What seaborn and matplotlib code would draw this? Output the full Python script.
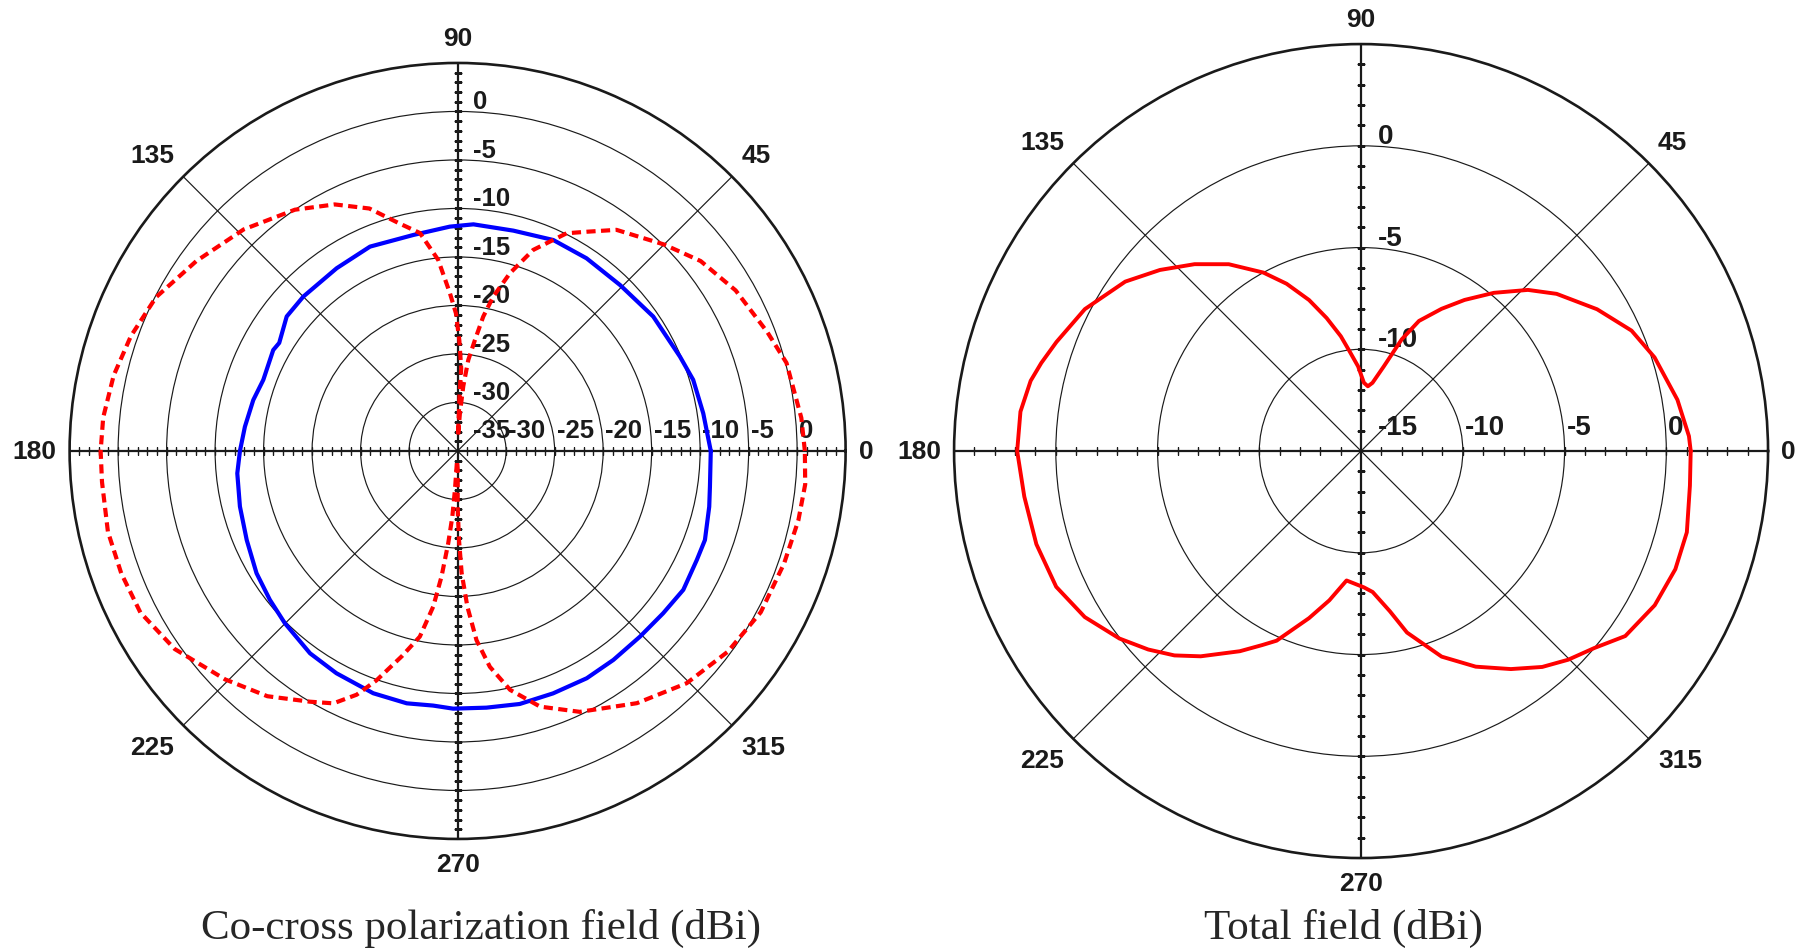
import numpy as np
import matplotlib
matplotlib.use('Agg')
import matplotlib.pyplot as plt
import seaborn as sns

# co-polarization field (blue, solid) - left plot
co_deg = [0, 8.7, 16.8, 23, 34.5, 45.6, 56.2, 65.6, 75.8, 86, 92, 101.6, 113.2, 123.5,
          135, 141.8, 148.8, 151.3, 159.9, 166, 173.5, 180, 185.8, 194.3, 202.9, 211.3,
          218.4, 224.9, 233.9, 241.4, 250.8, 258.6, 264.5, 269, 276.4, 283.8, 291.5,
          299.6, 306.7, 314.5, 321.7, 328.4, 335.5, 340.2, 347.5, 352]
co_db = [-8.9, -9.38, -9.63, -10.1, -10.53, -11.06, -11.1, -11.12, -11.57, -11.58, -11.86,
         -12.27, -12.08, -12.41, -12.5, -12.58, -13.5, -13.33, -13.67, -13.29, -12.93,
         -12.56, -12.17, -11.84, -11.4, -10.74, -10.3, -9.85, -9.18, -8.9, -8.55, -8.46,
         -8.63, -8.43, -8.37, -8.14, -8.14, -8.05, -8.13, -8.17, -8.0, -7.68, -7.9, -7.9,
         -8.43, -8.73]

# cross-polarization field (red, dashed) - left plot
cx_deg = [0, 5.5, 15, 21, 30, 38, 45, 54.3, 59.5, 63.4, 69.4, 73.6, 77, 79.2, 81.1, 83.3,
          85, 86.5, 88.5, 88, 87.5, 89.1, 90.7, 92.8, 95.8, 99.8, 104.6, 110, 116.5, 124,
          134, 144, 153, 160.6, 167.6, 174.6, 180, 185, 193, 200, 207, 215, 224.5, 232.2,
          239.5, 243.8, 247.5, 250.5, 254.8, 258.5, 261.1, 262.7, 264.2, 265.4, 266.1,
          266.5, 270.5, 270, 270.9, 271.9, 273.6, 275.7, 278.5, 282.4, 287.9, 295.1,
          305.4, 314.6, 323.4, 332, 341, 348.5, 354.5]
cx_db = [0.8, 0.6, 0.1, -0.8, -1.9, -3.2, -4.9, -6.93, -8.77, -9.9, -12.86, -15.9, -18.67,
         -20.9, -23.4, -25.55, -28.3, -31.1, -33.5, -29.0, -26.5, -23.6, -20.8, -18.7,
         -15.2, -12.2, -10.7, -8.4, -6.6, -5.0, -3.25, -1.7, -0.1, 0.7, 1.3, 1.7, 1.8,
         1.8, 2.0, 1.9, 1.7, 0.6, -1.4, -3.0, -5.0, -6.0, -7.8, -9.9, -13.07, -15.47,
         -18.76, -21.94, -25.43, -28.2, -31.0, -34.0, -33.0, -29.3, -25.8, -22.4, -18.9,
         -15.4, -12.5, -9.78, -7.3, -5.3, -3.1, -1.37, -0.3, 0.4, 0.6, 0.85, 1.0]

# total field (red, solid) - right plot
tot_deg = [0, 2.6, 9.2, 17.7, 24, 31, 38.8, 44, 50, 55.6, 60.5, 66, 70, 75, 80.5, 84,
           87.6, 92, 96.6, 100, 104.5, 109, 114, 118.7, 125.3, 131.7, 138, 144.3, 152.8,
           160.3, 164.6, 168, 173.4, 180, 187.7, 196, 204, 211, 217.8, 223, 227.6, 232,
           238.8, 243, 246, 252.7, 258, 263.6, 271.2, 274.7, 280.2, 284.2, 291.4, 298,
           304.5, 310, 314.8, 319.8, 325, 332.3, 339.4, 346, 354]
tot_db = [1.2, 1.13, 0.75, 0.14, -0.45, -1.47, -2.67, -3.6, -4.85, -6.0, -6.97, -8.0,
          -9.16, -10.7, -11.6, -11.8, -11.64, -10.84, -10.06, -9.27, -8.25, -7.15, -6.0,
          -5.0, -3.75, -2.7, -1.7, -0.73, 0.26, 0.9, 1.3, 1.6, 1.85, 1.9, 1.7, 1.6, 1.4,
          0.84, 0.03, -0.7, -1.4, -2.2, -3.5, -4.3, -4.8, -6.4, -7.5, -8.6, -8.3, -8.05,
          -7.0, -5.8, -4.15, -3.0, -2.0, -1.15, -0.55, 0.0, 0.85, 1.3, 1.5, 1.5, 1.25]

theta_ticks = [0, 45, 90, 135, 180, 225, 270, 315]
left_rings = [-30, -25, -20, -15, -10, -5, 0]
right_rings = [-10, -5, 0]

sns.set_theme(style='white')
plt.rcParams['font.family'] = ['Liberation Sans', 'DejaVu Sans']

fig = plt.figure(figsize=(18.08, 9.53), dpi=100)
ax1 = fig.add_axes([0.0385, 0.1186, 0.4292, 0.8143], projection='polar')
ax2 = fig.add_axes([0.5277, 0.0986, 0.4502, 0.8541], projection='polar')


def closed(deg, db):
    th = np.deg2rad(np.r_[deg, deg[0] + 360])
    return th, np.r_[db, db[0]]


def style_polar(ax, rmin, rmax, rings, lab_size, hpad, vpad):
    ax.set_ylim(rmin, rmax)
    ax.set_yticks(rings)
    ax.set_yticklabels([])
    ax.set_xticks(np.deg2rad(theta_ticks))
    ax.set_xticklabels([])
    ax.set_xticks(np.deg2rad(np.arange(0, 360, 5)), minor=True)
    ax.tick_params(axis='x', which='both', direction='in', length=4.8, width=0.9, colors='k')
    ax.tick_params(axis='y', length=0)
    ax.grid(True, color='k', lw=0.85)
    for i, g in enumerate(ax.xaxis.get_gridlines()):
        g.set_linewidth(1.6 if i % 2 == 0 else 0.85)
    ax.spines['polar'].set_linewidth(1.9)
    ax.spines['polar'].set_color('k')
    ax.set_axisbelow(True)
    ax.set_facecolor('white')

    # small 1 dB ticks across the main axes
    rt = np.arange(rmin + 1, rmax)
    for th, m in [(0, '|'), (np.pi, '|'), (np.pi / 2, '_'), (3 * np.pi / 2, '_')]:
        ax.plot(np.full(len(rt), th), rt, ls='none', marker=m, ms=5.3, mew=1.0,
                color='k', zorder=1.5)

    # radial labels along 0 and 90 deg
    kw = dict(textcoords='offset pixels', ha='left', va='baseline',
              fontsize=lab_size, fontweight='bold', color='k')
    for v in rings:
        ax.annotate(str(v), xy=(0, v), xytext=(2, hpad), **kw)
        ax.annotate(str(v), xy=(np.pi / 2, v), xytext=(vpad, 3), **kw)
    ax.annotate(str(rmin), xy=(0, rmin), xytext=(vpad, hpad), **kw)

    # angle labels outside the outer circle
    for t in theta_ticks:
        a = np.deg2rad(t)
        c, s = np.cos(a), np.sin(a)
        ha = 'left' if c > 0.1 else ('right' if c < -0.1 else 'center')
        va = 'bottom' if s > 0.1 else ('top' if s < -0.1 else 'center')
        ax.annotate(str(t), xy=(a, rmax), xytext=(13 * c, 13 * s),
                    textcoords='offset pixels', ha=ha, va=va,
                    fontsize=19, fontweight='bold', color='k', annotation_clip=False)


style_polar(ax1, -35, 5, left_rings, 18.5, 14, 15)
style_polar(ax2, -15, 5, right_rings, 20, 17, 17)

th, r = closed(co_deg, co_db)
sns.lineplot(x=th, y=r, ax=ax1, sort=False, estimator=None, color='#0000ff', lw=3.0, zorder=4)
th, r = closed(cx_deg, cx_db)
sns.lineplot(x=th, y=r, ax=ax1, sort=False, estimator=None, color='#ff0000', lw=3.0,
             linestyle=(0, (2.2, 1.3)), zorder=4)
th, r = closed(tot_deg, tot_db)
sns.lineplot(x=th, y=r, ax=ax2, sort=False, estimator=None, color='#ff0000', lw=2.8, zorder=4)

for ax, rmin, rmax in [(ax1, -35, 5), (ax2, -15, 5)]:
    ax.set_ylim(rmin, rmax)
    ax.set_xlabel('')
    ax.set_ylabel('')

fig.text(0.266, 0.026, 'Co-cross polarization field (dBi)', ha='center', va='center',
         fontsize=31, family=['Liberation Serif', 'DejaVu Serif'])
fig.text(0.743, 0.026, 'Total field (dBi)', ha='center', va='center',
         fontsize=31, family=['Liberation Serif', 'DejaVu Serif'])

fig.savefig('out.png', dpi=100)
